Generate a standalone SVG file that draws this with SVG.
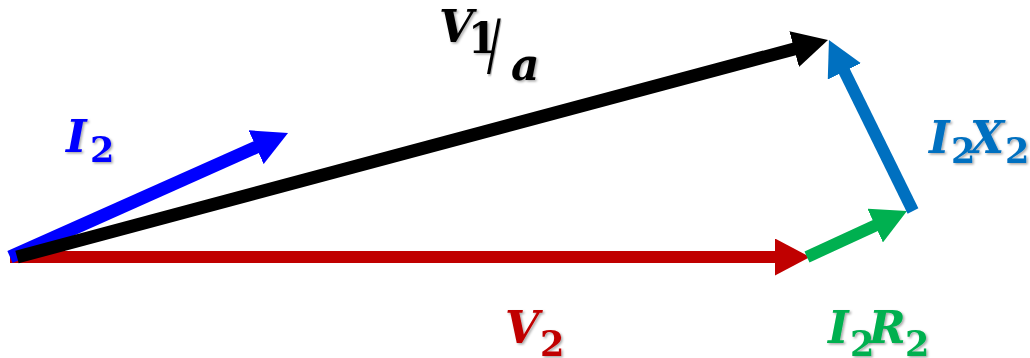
<svg xmlns="http://www.w3.org/2000/svg" width="1030" height="358" viewBox="0 0 1030 358">
<style>
  .vec { stroke-linecap: butt; fill: none; }
  .lbl { font-family: "DejaVu Serif", "Liberation Serif", serif; font-weight: bold; font-style: italic; filter: url(#sh); }
  .main { font-size: 44px; }
  .sub { font-size: 35px; font-style: normal; }
  .up { font-style: normal; }
  .thin { font-style: normal; font-weight: normal; }
</style>
<defs>
  <filter id="sh" x="-20%" y="-20%" width="140%" height="140%">
    <feDropShadow dx="1.5" dy="1.5" stdDeviation="1" flood-color="#000" flood-opacity="0.35"/>
  </filter>
  <marker id="ahRed" markerUnits="userSpaceOnUse" markerWidth="36" markerHeight="37" refX="2" refY="18.5" orient="auto" viewBox="0 0 36 37"><path d="M0,0 L35,18.5 L0,37 Z" fill="#C00000"/></marker>
  <marker id="ahGreen" markerUnits="userSpaceOnUse" markerWidth="36" markerHeight="37" refX="2" refY="18.5" orient="auto" viewBox="0 0 36 37"><path d="M0,0 L35,18.5 L0,37 Z" fill="#00B050"/></marker>
  <marker id="ahLBlue" markerUnits="userSpaceOnUse" markerWidth="36" markerHeight="37" refX="2" refY="18.5" orient="auto" viewBox="0 0 36 37"><path d="M0,0 L35,18.5 L0,37 Z" fill="#0070C0"/></marker>
  <marker id="ahBlack" markerUnits="userSpaceOnUse" markerWidth="36" markerHeight="37" refX="2" refY="18.5" orient="auto" viewBox="0 0 36 37"><path d="M0,0 L35,18.5 L0,37 Z" fill="#000"/></marker>
  <marker id="ahBlue" markerUnits="userSpaceOnUse" markerWidth="36" markerHeight="37" refX="2" refY="18.5" orient="auto" viewBox="0 0 36 37"><path d="M0,0 L35,18.5 L0,37 Z" fill="#0000FF"/></marker>
</defs>
<rect width="1030" height="358" fill="#fff"/>
<g id="connectors">
  <line id="V2" class="vec" x1="10" y1="257" x2="777" y2="257" stroke="#C00000" stroke-width="12" marker-end="url(#ahRed)"/>
  <line id="I2R2" class="vec" x1="807" y1="257" x2="877" y2="224.8" stroke="#00B050" stroke-width="12" marker-end="url(#ahGreen)"/>
  <line id="I2X2" class="vec" x1="913" y1="211" x2="843.5" y2="69.6" stroke="#0070C0" stroke-width="12" marker-end="url(#ahLBlue)"/>
  <line id="I2" class="vec" x1="10" y1="257" x2="257.9" y2="146.4" stroke="#0000FF" stroke-width="13" marker-end="url(#ahBlue)"/>
  <line id="V1a" class="vec" x1="17" y1="257" x2="796.1" y2="48.5" stroke="#000" stroke-width="13" marker-end="url(#ahBlack)"/>
</g>
<g id="label-V1a" fill="#000">
  <text class="lbl main" x="439" y="42">V</text>
  <text class="lbl up" x="468" y="53" font-size="42">1</text>
  <text class="lbl thin" font-size="68" transform="translate(487,68) scale(0.6,1)" x="0" y="0">/</text>
  <text class="lbl main" x="511" y="80">a</text>
</g>
<g id="label-I2" fill="#0000FF">
  <text class="lbl main" x="66" y="152">I</text>
  <text class="lbl sub" x="90" y="162">2</text>
</g>
<g id="label-V2" fill="#C00000">
  <text class="lbl main" x="505" y="343">V</text>
  <text class="lbl sub" x="540" y="356">2</text>
</g>
<g id="label-I2R2" fill="#00B050">
  <text class="lbl main" x="828" y="343">I</text>
  <text class="lbl sub" x="850" y="356">2</text>
  <text class="lbl main" x="869" y="343">R</text>
  <text class="lbl sub" x="905" y="356">2</text>
</g>
<g id="label-I2X2" fill="#0070C0">
  <text class="lbl main" x="929" y="153">I</text>
  <text class="lbl sub" x="951" y="163">2</text>
  <text class="lbl main" x="970" y="153">X</text>
  <text class="lbl sub" x="1005" y="163">2</text>
</g>
</svg>
